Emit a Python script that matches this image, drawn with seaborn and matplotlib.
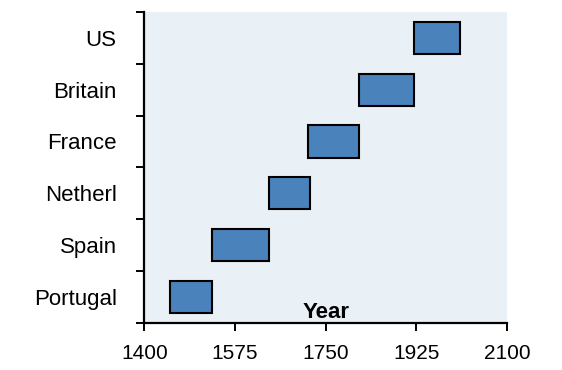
import numpy as np
import pandas as pd
import matplotlib
matplotlib.use('Agg')
import matplotlib.pyplot as plt
import seaborn as sns

# periods of dominance, top row first
countries = ['US', 'Britain', 'France', 'Netherl', 'Spain', 'Portugal']
start_year = [1920, 1815, 1715, 1640, 1530, 1450]
end_year = [2010, 1920, 1815, 1720, 1640, 1530]
x_ticks = [1400, 1575, 1750, 1925, 2100]

df = pd.DataFrame({'country': countries, 'start': start_year, 'end': end_year})
df['span'] = df['end'] - df['start']

sns.set_theme(style='white')
plt.rcParams['font.family'] = ['Liberation Sans', 'DejaVu Sans']

fig = plt.figure(figsize=(5.62, 3.70), dpi=100)
ax = fig.add_axes([0.257, 0.127, 0.645, 0.841])
ax.set_facecolor('#e9f0f6')

sns.barplot(data=df, x='span', y='country', order=countries, orient='h',
            left=df['start'].values, width=0.62, color='#4a82bb',
            saturation=1, edgecolor='black', linewidth=1.5, ax=ax)

ax.set_xlim(1400, 2100)
ax.set_ylim(5.5, -0.5)
ax.set_xticks(x_ticks)
ax.set_xticklabels([str(t) for t in x_ticks])

for side in ['top', 'right']:
    ax.spines[side].set_visible(False)
for side in ['left', 'bottom']:
    ax.spines[side].set_color('black')
    ax.spines[side].set_linewidth(1.6)

ax.set_yticks(np.arange(-0.5, 6, 1), minor=True)
ax.tick_params(axis='y', which='major', length=0, pad=20, labelsize=16, colors='black')
ax.tick_params(axis='y', which='minor', left=True, length=6, width=1.4, color='black')
ax.tick_params(axis='x', which='major', bottom=True, length=6, width=1.4, pad=9,
               labelsize=15, colors='black')

ax.set_ylabel('')
ax.set_xlabel('Year', fontsize=16, fontweight='bold', va='bottom', color='black')
ax.xaxis.set_label_coords(0.5, 0.0)

fig.savefig('out.png', dpi=100)
